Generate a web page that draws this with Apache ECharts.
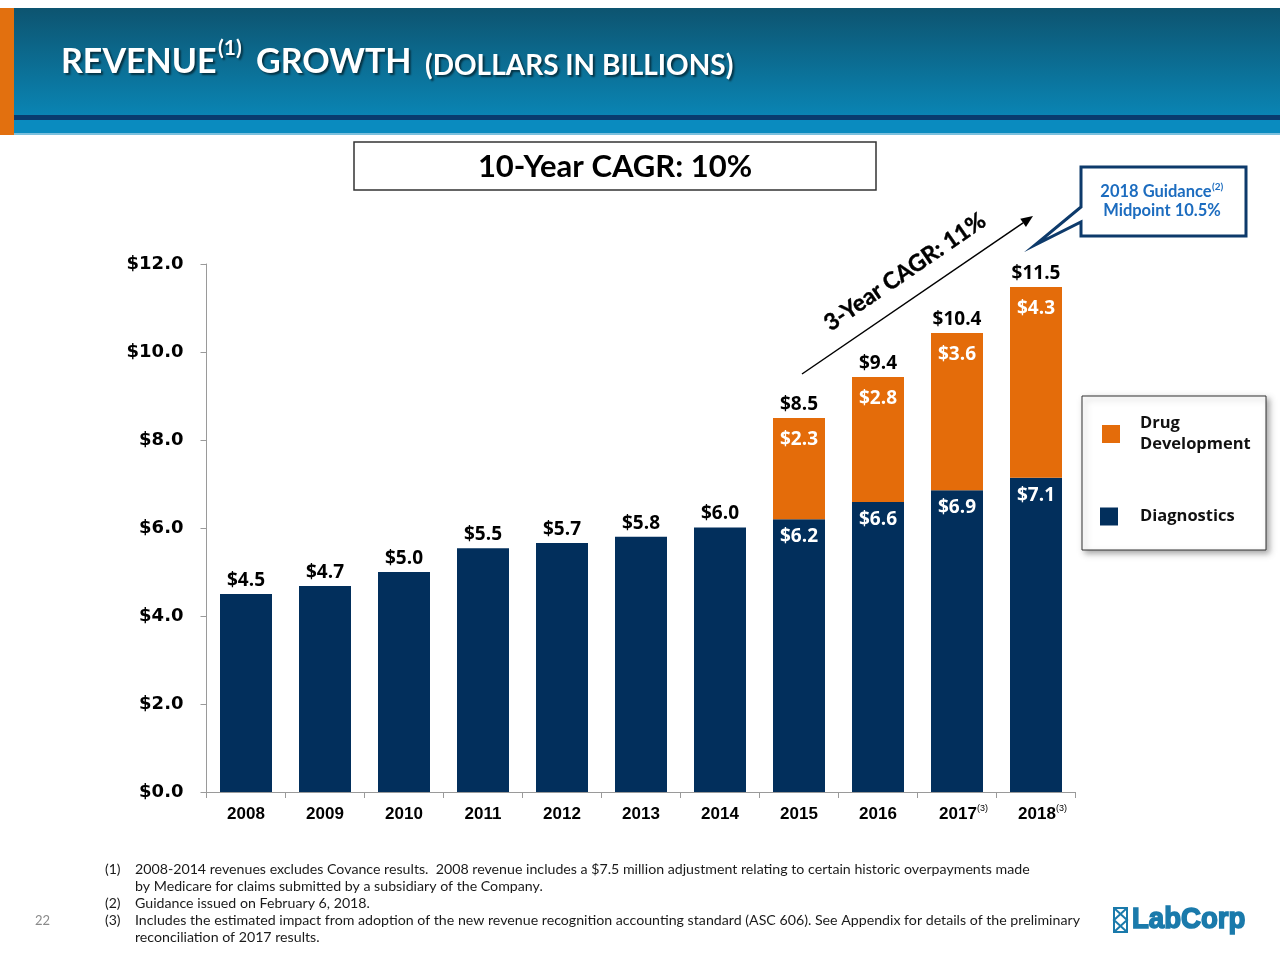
<!DOCTYPE html>
<html><head><meta charset="utf-8">
<script src="https://cdn.jsdelivr.net/npm/echarts@6/dist/echarts.min.js"></script>
<style>html,body{margin:0;padding:0;background:#fff}#c{width:1280px;height:960px}</style>
</head><body><div id="c"></div>
<script>
// ---- data ----
const years = ['2008','2009','2010','2011','2012','2013','2014','2015','2016','2017','2018'];
const yearNotes = ['','','','','','','','','','(3)','(3)'];
const diagnostics = [4.50,4.68,5.00,5.54,5.66,5.80,6.01,6.20,6.59,6.86,7.14];
const drugDevelopment = [0,0,0,0,0,0,0,2.30,2.84,3.57,4.34];
const yMin = 0, yMax = 12, yStep = 2;
const titleMain = 'REVENUE';
const titleSup = '(1)';
const titleMain2 = 'GROWTH';
const titleSub = '(DOLLARS IN BILLIONS)';
const cagr10 = '10-Year CAGR: 10%';
const cagr3 = '3-Year CAGR: 11%';
const guidance1 = '2018 Guidance';
const guidance2 = 'Midpoint 10.5%';
const footnotes = [
  ['(1)', '2008-2014 revenues excludes Covance results.  2008 revenue includes a $7.5 million adjustment relating to certain historic overpayments made'],
  ['', 'by Medicare for claims submitted by a subsidiary of the Company.'],
  ['(2)', 'Guidance issued on February 6, 2018.'],
  ['(3)', 'Includes the estimated impact from adoption of the new revenue recognition accounting standard (ASC 606). See Appendix for details of the preliminary'],
  ['', 'reconciliation of 2017 results.']
];
const pageNo = '22';

// ---- derived ----
const totals = diagnostics.map((v, i) => v + drugDevelopment[i]);
const NAVY = '#022f5c', ORANGE = '#e46c0a';
const valFont = {fontFamily: '"Open Sans", sans-serif', fontWeight: 'bold', fontSize: 19};
const lato = '"Lato", "Open Sans", sans-serif';

// arrow geometry
const aS = [802, 374], aE = [1033, 216];
const dx = aE[0] - aS[0], dy = aE[1] - aS[1], L = Math.hypot(dx, dy);
const ux = dx / L, uy = dy / L, px = -uy, py = ux;
const hb = [aE[0] - 12 * ux, aE[1] - 12 * uy];
const shadow = {textShadowColor:'rgba(0,0,0,0.55)', textShadowBlur:2, textShadowOffsetX:2, textShadowOffsetY:2};

const graphics = [
  {type:'rect', z:-5, shape:{x:0,y:8,width:1280,height:108}, style:{fill:new echarts.graphic.LinearGradient(0,0,0,1,[{offset:0,color:'#0d5470'},{offset:1,color:'#0a85b4'}])}},
  {type:'rect', z:-5, shape:{x:0,y:115,width:1280,height:5}, style:{fill:'#093c6e'}},
  {type:'rect', z:-5, shape:{x:0,y:120,width:1280,height:14}, style:{fill:'#0a8bbf'}},
  {type:'rect', z:-5, shape:{x:0,y:133,width:1280,height:2}, style:{fill:'#7cc0dd'}},
  {type:'rect', z:-4, shape:{x:0,y:8,width:14,height:127}, style:{fill:'#e2700f'}},
  {type:'text', x:61, y:62, style:Object.assign({text:titleMain, fill:'#fff', font:'bold 34px '+lato, align:'left', verticalAlign:'middle'}, shadow)},
  {type:'text', x:218, y:48, style:Object.assign({text:titleSup, fill:'#fff', font:'bold 21px '+lato, align:'left', verticalAlign:'middle'}, shadow)},
  {type:'text', x:256, y:62, style:Object.assign({text:titleMain2, fill:'#fff', font:'bold 34px '+lato, align:'left', verticalAlign:'middle'}, shadow)},
  {type:'text', x:425, y:66, style:Object.assign({text:titleSub, fill:'#fff', font:'bold 28px '+lato, align:'left', verticalAlign:'middle'}, shadow)},
  // 10-year box
  {type:'rect', z:-3, shape:{x:354,y:142,width:522,height:48}, style:{fill:'#fff', stroke:'#333', lineWidth:1.5}},
  {type:'text', x:615, y:167, style:{text:cagr10, fill:'#000', font:'bold 31px '+lato, align:'center', verticalAlign:'middle'}},
  // 3-year arrow
  {type:'line', shape:{x1:aS[0],y1:aS[1],x2:hb[0],y2:hb[1]}, style:{stroke:'#000', lineWidth:1.5}},
  {type:'polygon', shape:{points:[[aE[0],aE[1]],[hb[0]+5*px,hb[1]+5*py],[hb[0]-5*px,hb[1]-5*py]]}, style:{fill:'#000'}},
  {type:'text', x:905, y:272, rotation:Math.atan2(-dy, dx), style:{text:cagr3, fill:'#000', stroke:'#000', lineWidth:0.4, font:'bold 23px '+lato, align:'center', verticalAlign:'middle'}},
  // guidance callout
  {type:'polygon', shape:{points:[[1081,167],[1246,167],[1246,236],[1081,236],[1081,222],[1035,245],[1081,207]]}, style:{fill:'#fff', stroke:'#0d3a6b', lineWidth:3}},
  {type:'text', x:1156, y:192, style:{text:guidance1, fill:'#1c6cbf', font:'bold 16.5px '+lato, align:'center', verticalAlign:'middle'}},
  {type:'text', x:1212, y:187, style:{text:'(2)', fill:'#1c6cbf', font:'bold 10px '+lato, align:'left', verticalAlign:'middle'}},
  {type:'text', x:1162, y:211, style:{text:guidance2, fill:'#1c6cbf', font:'bold 16.5px '+lato, align:'center', verticalAlign:'middle'}},
  // legend box
  {type:'rect', z:-3, shape:{x:1082,y:396,width:184,height:154}, style:{fill:'#fff', stroke:'#333', lineWidth:1, shadowBlur:6, shadowOffsetX:3, shadowOffsetY:3, shadowColor:'rgba(0,0,0,0.35)'}},
  // page number
  {type:'text', x:35, y:921, style:{text:pageNo, fill:'#8a8a8a', font:'13px '+lato, align:'left', verticalAlign:'middle'}},
  // logo
  {type:'rect', shape:{x:1114,y:908,width:13,height:24}, style:{fill:'none', stroke:'#1a7aab', lineWidth:2}},
  {type:'polyline', shape:{points:[[1114,908],[1127,920],[1114,932]]}, style:{stroke:'#1a7aab', lineWidth:2, fill:'none'}},
  {type:'polyline', shape:{points:[[1127,908],[1114,920],[1127,932]]}, style:{stroke:'#1a7aab', lineWidth:2, fill:'none'}},
  {type:'text', x:1132, y:920, scaleX:0.92, style:{text:'LabCorp', fill:'#1a7aab', stroke:'#1a7aab', lineWidth:1.6, font:'bold 30px "Liberation Sans", Arial, sans-serif', align:'left', verticalAlign:'middle'}}
];
const fnY = [869, 886, 903, 920, 937];
footnotes.forEach((f, i) => {
  if (f[0]) graphics.push({type:'text', x:105, y:fnY[i], style:{text:f[0], fill:'#1a1a1a', font:'14px '+lato, align:'left', verticalAlign:'middle'}});
  graphics.push({type:'text', x:135, y:fnY[i], style:{text:f[1], fill:'#1a1a1a', font:'14.2px '+lato, align:'left', verticalAlign:'middle'}});
});

const legendText = {fontFamily:'"Open Sans", sans-serif', fontWeight:'bold', fontSize:16.5, color:'#111', lineHeight:21, padding:[0,0,0,15]};
const legendText2 = Object.assign({}, legendText, {padding:[0,0,0,17]});

const option = {
  animation: false,
  backgroundColor: '#fff',
  grid: {left: 206.5, right: 204.5, top: 264, bottom: 168, containLabel: false},
  legend: [
    {data:['Drug Development'], left:1102, top:413, orient:'vertical', icon:'rect', itemWidth:18, itemHeight:18, padding:0, selectedMode:false,
     formatter: () => 'Drug\nDevelopment', textStyle: legendText},
    {data:['Diagnostics'], left:1100, top:506, orient:'vertical', icon:'rect', itemWidth:18, itemHeight:18, padding:0, selectedMode:false, textStyle: legendText2}
  ],
  xAxis: {
    type: 'category', data: years,
    axisLine: {lineStyle: {color: '#9a9a9a'}},
    axisTick: {show: true, interval: 0, length: 6, lineStyle: {color: '#9a9a9a'}},
    axisLabel: {
      interval: 0,
      margin: 12,
      formatter: (v, i) => yearNotes[i] ? `{yp|${v}}{s|${yearNotes[i]}}` : `{y|${v}}`,
      rich: {
        y: {fontFamily:'"Liberation Sans", Arial, sans-serif', fontWeight:'bold', fontSize:17, color:'#000', lineHeight:20},
        yp: {fontFamily:'"Liberation Sans", Arial, sans-serif', fontWeight:'bold', fontSize:17, color:'#000', lineHeight:20, padding:[0,0,0,13]},
        s: {fontFamily:'"Liberation Sans", Arial, sans-serif', fontSize:9, color:'#000', lineHeight:20, verticalAlign:'top'}
      }
    }
  },
  yAxis: {
    type: 'value', min: yMin, max: yMax, interval: yStep,
    axisLine: {show: true, lineStyle: {color: '#9a9a9a'}},
    axisTick: {show: true, length: 6, lineStyle: {color: '#9a9a9a'}},
    splitLine: {show: false},
    axisLabel: {margin: 23, formatter: v => '$' + v.toFixed(1), fontFamily:'"DejaVu Sans", sans-serif', fontWeight:'bold', fontSize:18, color:'#000'}
  },
  series: [
    {name:'Diagnostics', type:'bar', stack:'rev', barWidth:52, itemStyle:{color:NAVY},
     data: diagnostics.map((v, i) => ({value: v, label: {show: drugDevelopment[i] > 0}})),
     label: Object.assign({position:'insideTop', distance:8, color:'#fff', formatter: p => '$' + p.value.toFixed(1)}, valFont)},
    {name:'Drug Development', type:'bar', stack:'rev', barWidth:52, itemStyle:{color:ORANGE},
     data: drugDevelopment.map(v => ({value: v, label: {show: v > 0}})),
     label: Object.assign({position:'insideTop', distance:12, color:'#fff', formatter: p => '$' + p.value.toFixed(1)}, valFont)},
    {name:'Total', type:'bar', stack:'rev', barWidth:52, itemStyle:{color:'rgba(0,0,0,0)'},
     data: totals.map(() => 0),
     label: Object.assign({show:true, position:'top', distance:4, color:'#000', formatter: p => '$' + totals[p.dataIndex].toFixed(1)}, valFont)}
  ],
  graphic: graphics
};
const chart = echarts.init(document.getElementById('c'), null, {renderer:'canvas'});
chart.setOption(option);
</script></body></html>
